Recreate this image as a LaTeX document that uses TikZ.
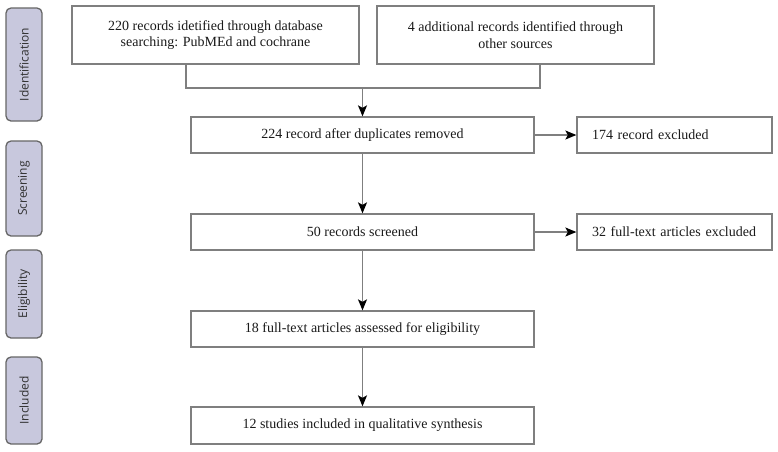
\documentclass[tikz,border=0pt]{standalone}
\usepackage{fontspec}
\setmainfont{Liberation Serif}
\newfontfamily\phasefont{Open Sans}
\usetikzlibrary{arrows.meta}

\definecolor{phasefill}{HTML}{C8C8DD}
\definecolor{boxline}{HTML}{7F7F7F}
\definecolor{inktext}{HTML}{1A1A1A}

\tikzset{
  flowbox/.style={draw=boxline, line width=1.3pt, fill=white, text=inktext,
    align=center, inner sep=2pt, font=\fontsize{14}{16.5}\selectfont},
  sidebox/.style={flowbox, align=left, text width=#1, inner xsep=15pt},
  phase/.style={draw=boxline!80!black, line width=1.3pt, fill=phasefill,
    rounded corners=5pt, rotate=90, minimum height=36pt, inner sep=0pt,
    text=inktext!90, font=\phasefont\fontsize{12}{14}\selectfont},
  link/.style={draw=boxline, line width=1.3pt},
  arrow/.style={link, -{Stealth[length=11pt,width=9pt,inset=2.5pt,color=black]}},
}

\begin{document}
\begin{tikzpicture}[x=1pt, y=-1pt]
  \useasboundingbox (0,0) rectangle (778,451);

  % phase labels on the left
  \node[phase, minimum width=113pt] (pid) at (24,64.5) {Identification};
  \node[phase, minimum width=95pt] (pscr) at (24,188.5) {Screening};
  \node[phase, minimum width=88pt] (pelig) at (24,294) {Eligibility};
  \node[phase, minimum width=87pt] (pinc) at (24,400.5) {Included};

  % main flow
  \node[flowbox, minimum width=287pt, minimum height=58pt] (db) at (215.5,35)
    {220 records idetified through database\\searching: PubMEd and cochrane};
  \node[flowbox, minimum width=277pt, minimum height=58pt] (other) at (515.5,35)
    {4 additional records identified through\\other sources};
  \node[flowbox, minimum width=343pt, minimum height=36pt] (dup) at (362.5,135)
    {224 record after duplicates removed};
  \node[flowbox, minimum width=343pt, minimum height=36pt] (scr) at (362.5,232)
    {50 records screened};
  \node[flowbox, minimum width=343pt, minimum height=36pt] (elig) at (362.5,329)
    {18 full-text articles assessed for eligibility};
  \node[flowbox, minimum width=343pt, minimum height=37pt] (inc) at (362.5,425.5)
    {12 studies included in qualitative synthesis};

  % exclusions
  \node[sidebox=165pt, minimum height=36pt] (ex1) at (674.5,135) {174 record excluded};
  \node[sidebox=165pt, minimum height=36pt] (ex2) at (674.5,232) {32 full-text articles excluded};

  % merge of the two sources
  \coordinate (jl) at (186,88);
  \coordinate (jr) at (540,88);
  \coordinate (jm) at (362.5,88);
  \draw[link] (db.south -| jl) -- (jl) -- (jr) -- (other.south -| jr);
  \draw[arrow] (jm) -- (dup);

  \draw[arrow] (dup) -- (scr);
  \draw[arrow] (scr) -- (elig);
  \draw[arrow] (elig) -- (inc);
  \draw[arrow] (dup) -- (ex1);
  \draw[arrow] (scr) -- (ex2);
\end{tikzpicture}
\end{document}
